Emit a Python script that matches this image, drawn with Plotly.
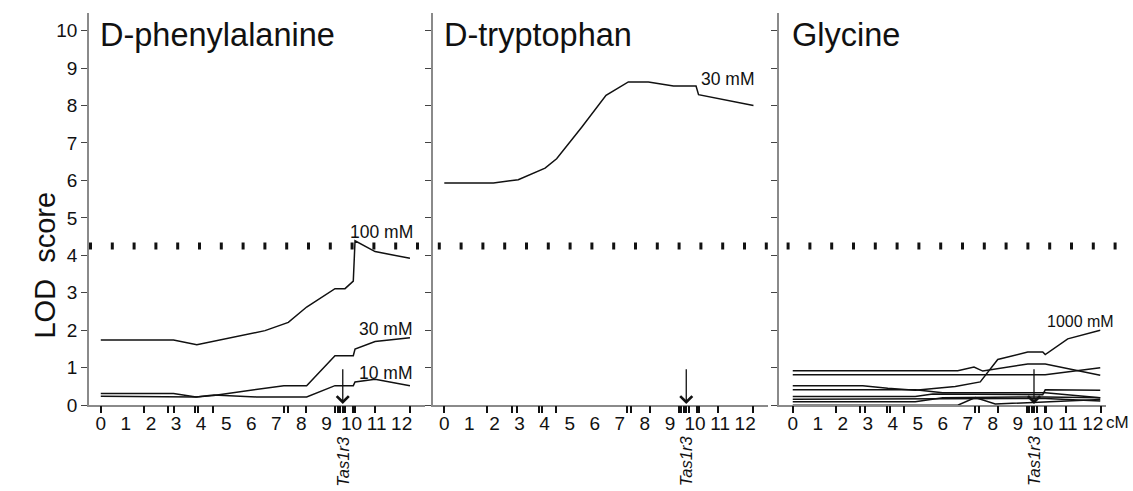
import plotly.graph_objects as go

# ---------------- data ----------------
marker_cM = [0, 1.72, 2.7, 2.9, 3.76, 3.89, 4.46, 7.3, 7.46, 8.2,
             9.35, 9.45, 9.55, 9.65, 9.75, 10.07, 10.14, 10.92, 12.32]
tick_cM = list(range(0, 13))
tas1r3_cM = 9.65
threshold_lod = 4.25

# D-phenylalanine
phe100_x = [0, 2.9, 3.83, 6.55, 7.48, 8.21, 9.34, 9.74, 10.07, 10.14, 10.94, 12.33]
phe100_y = [1.74, 1.74, 1.61, 1.99, 2.21, 2.62, 3.11, 3.11, 3.31, 4.39, 4.10, 3.92]
phe30_x = [0, 2.9, 3.8, 4.5, 7.3, 8.21, 9.34, 10.07, 10.14, 10.94, 12.33]
phe30_y = [0.31, 0.31, 0.22, 0.26, 0.52, 0.52, 1.32, 1.32, 1.50, 1.70, 1.80]
phe10_x = [0, 2.9, 3.8, 4.5, 5.5, 6.2, 8.21, 9.34, 10.07, 10.14, 10.94, 12.33]
phe10_y = [0.24, 0.24, 0.22, 0.27, 0.24, 0.22, 0.22, 0.52, 0.52, 0.62, 0.69, 0.52]

# D-tryptophan
trp30_x = [0, 1.96, 2.95, 4.02, 4.48, 5.48, 6.45, 7.34, 8.14, 9.14, 10.04, 10.14, 12.33]
trp30_y = [5.93, 5.93, 6.02, 6.33, 6.58, 7.42, 8.27, 8.63, 8.63, 8.52, 8.52, 8.29, 8.00]

# Glycine (several concentrations)
gly_series = [
    ([0, 6.6, 7.25, 7.6, 9.4, 10.1, 12.3], [0.92, 0.92, 1.02, 0.91, 1.10, 1.10, 0.80]),
    ([0, 10.1, 12.3], [0.81, 0.81, 1.00]),
    ([0, 2.8, 3.8, 4.9, 6.5, 7.5, 8.2, 9.4, 10.0, 10.1, 11.0, 12.3],
     [0.52, 0.52, 0.45, 0.40, 0.50, 0.62, 1.22, 1.42, 1.42, 1.35, 1.77, 2.00]),
    ([0, 4.9, 6.0, 10.1, 12.3], [0.41, 0.41, 0.33, 0.33, 0.20]),
    ([0, 4.9, 5.6, 10.0, 10.1, 12.3], [0.23, 0.23, 0.30, 0.28, 0.41, 0.40]),
    ([0, 4.9, 10.1, 12.3], [0.16, 0.16, 0.18, 0.11]),
    ([0, 4.9, 6.0, 10.1, 12.3], [0.09, 0.09, 0.20, 0.22, 0.20]),
    ([0, 6.6, 7.3, 8.1, 12.3], [0.0, 0.0, 0.20, 0.03, 0.15]),
]

panel_titles = ["D-phenylalanine", "D-tryptophan", "Glycine"]
conc_labels = [
    ("100 mM", 1, 11.18, 4.61, 17.5),
    ("30 mM", 1, 11.34, 2.02, 17.5),
    ("10 mM", 1, 11.34, 0.86, 17.5),
    ("30 mM", 2, 11.28, 8.72, 17.5),
    ("1000 mM", 3, 11.49, 2.23, 16),
]

# ---------------- figure ----------------
W, H = 1133, 491
HE = 479  # effective rendered height used for paper fractions
FONT = "Liberation Sans, Arial, sans-serif"
LINE = dict(color="#111111", width=1.5)
AXC = "#8a8a8a"

fig = go.Figure()


def sfx(k):
    return "" if k == 1 else str(k)


def py(p):
    return 1 - p / HE


def add_line(x, y, k):
    fig.add_trace(go.Scatter(x=x, y=y, mode="lines", line=LINE,
                             xaxis="x" + sfx(k), yaxis="y" + sfx(k),
                             showlegend=False, hoverinfo="skip"))


add_line(phe100_x, phe100_y, 1)
add_line(phe30_x, phe30_y, 1)
add_line(phe10_x, phe10_y, 1)
add_line(trp30_x, trp30_y, 2)
for gx, gy in gly_series:
    add_line(gx, gy, 3)

# invisible traces so that the marker-tick overlay axes are drawn
for k in (1, 2, 3):
    fig.add_trace(go.Scatter(x=[0], y=[0], mode="markers", marker=dict(opacity=0),
                             xaxis="x" + str(k + 3), yaxis="y" + sfx(k),
                             showlegend=False, hoverinfo="skip"))

xdomains = [[89 / W, 425 / W], [433 / W, 768 / W], [779 / W, 1106 / W]]
xranges = [[-0.47, 12.93], [-0.45, 12.91], [-0.55, 12.53]]
ydom = [py(404.3), py(13)]
yrange = [0, 10.47]

layout = dict(width=W, height=H, autosize=False, margin=dict(l=0, r=0, t=0, b=0),
              paper_bgcolor="white", plot_bgcolor="white",
              font=dict(family=FONT, color="#111111"), showlegend=False)

for i in range(3):
    k = i + 1
    s = sfx(k)
    layout["xaxis" + s] = dict(domain=xdomains[i], range=xranges[i], anchor="y" + s,
                               tickmode="array", tickvals=tick_cM, ticks="",
                               showline=True, linecolor=AXC, linewidth=1.5,
                               showgrid=False, zeroline=False,
                               tickfont=dict(size=19, family=FONT, color="#111111"),
                               ticklabelstandoff=0)
    layout["yaxis" + s] = dict(domain=ydom, range=yrange, anchor="x" + s,
                               tickmode="array", tickvals=list(range(0, 11)),
                               ticks="outside", ticklen=6, tickwidth=1.2, tickcolor="#444444",
                               showticklabels=(k == 1),
                               tickfont=dict(size=19, family=FONT, color="#111111"),
                               showline=True, linecolor=AXC, linewidth=1.5,
                               showgrid=False, zeroline=False)
    layout["xaxis" + str(k + 3)] = dict(domain=xdomains[i], range=xranges[i],
                                        overlaying="x" + s, anchor="y" + s, side="bottom",
                                        tickmode="array", tickvals=marker_cM,
                                        ticks="outside", ticklen=7, tickwidth=1.6,
                                        tickcolor="#111111", showticklabels=False,
                                        showline=False, showgrid=False, zeroline=False)

fig.update_layout(**layout)

annotations = []
title_x = [98, 442, 790]
for i, t in enumerate(panel_titles):
    annotations.append(dict(text=t, x=title_x[i] / W, y=py(35), xref="paper", yref="paper",
                            xanchor="left", yanchor="middle", showarrow=False,
                            font=dict(size=32.5, family=FONT, color="#111111")))

annotations.append(dict(text="LOD\u00a0\u00a0score", x=45 / W, y=py(265),
                        xref="paper", yref="paper", textangle=-90, showarrow=False,
                        xanchor="center", yanchor="middle",
                        font=dict(size=29, family=FONT, color="#111111")))

for txt, k, xv, yv, fs in conc_labels:
    annotations.append(dict(text=txt, x=xv, y=yv, xref="x" + sfx(k), yref="y" + sfx(k),
                            showarrow=False, xanchor="center", yanchor="middle",
                            font=dict(size=fs, family=FONT, color="#111111")))

for k in (1, 2, 3):
    s = sfx(k)
    annotations.append(dict(x=tas1r3_cM, y=0.03, xref="x" + s, yref="y" + s,
                            ax=tas1r3_cM, ay=1.0, axref="x" + s, ayref="y" + s,
                            showarrow=True, arrowhead=4, arrowsize=1.8, arrowwidth=1.3,
                            arrowcolor="#111111", text="", standoff=0))
    annotations.append(dict(text="<i>Tas1r3</i>", x=tas1r3_cM, y=py(460),
                            xref="x" + s, yref="paper",
                            textangle=-90, showarrow=False, xanchor="center", yanchor="middle",
                            font=dict(size=16.5, family=FONT, color="#111111")))

annotations.append(dict(text="cM", x=1117 / W, y=py(422), xref="paper", yref="paper",
                        showarrow=False, xanchor="center", yanchor="middle",
                        font=dict(size=17, family=FONT, color="#111111")))

fig.update_layout(annotations=annotations)

fig.add_shape(type="line", xref="paper", yref="y", x0=89 / W, x1=1122 / W,
              y0=threshold_lod, y1=threshold_lod,
              line=dict(color="#111111", width=7, dash="3px,18.8px"))

fig.write_html("out.html",
               config={"responsive": False, "displayModeBar": False},
               post_script="document.body.style.margin='0px';"
                           "document.body.style.overflow='hidden';"
                           "document.documentElement.style.overflow='hidden';")
